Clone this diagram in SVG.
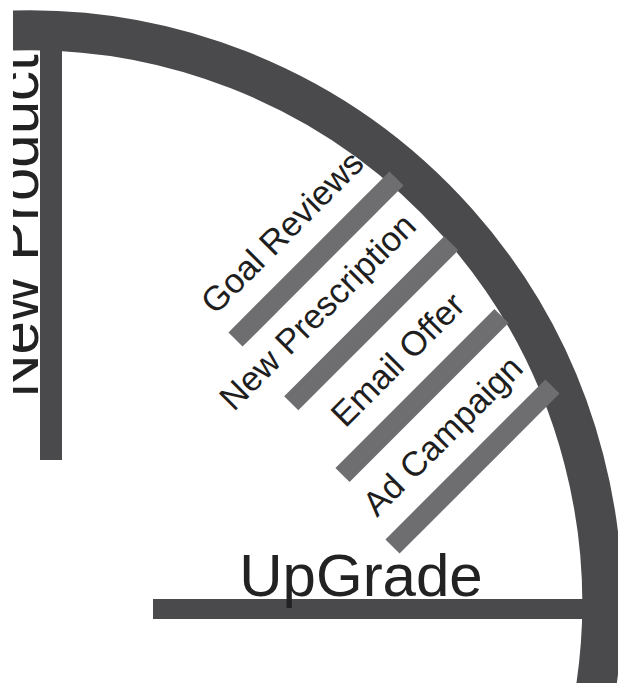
<svg xmlns="http://www.w3.org/2000/svg" width="618" height="683" viewBox="0 0 618 683">
  <defs>
    <clipPath id="frame"><rect x="13" y="0" width="605" height="683"/></clipPath>
    <style>
      .dark { fill: #4a4a4c; }
      .arc { fill: none; stroke: #4a4a4c; stroke-width: 40; }
      .rung { stroke: #6e6e70; stroke-width: 20; stroke-linecap: butt; }
      .big { font-family: "Liberation Sans", Arial, sans-serif; font-size: 60px; fill: #222; }
      .lbl { font-family: "Liberation Sans", Arial, sans-serif; font-size: 34.5px; fill: #1e1e1e; text-anchor: middle; }
    </style>
  </defs>
  <rect width="618" height="683" fill="#ffffff"/>
  <g clip-path="url(#frame)">
    <g id="new-product">
      <rect class="dark" x="40" y="35" width="22" height="425"/>
      <text class="big" text-anchor="middle" transform="translate(38,226) rotate(-90)">New Product</text>
    </g>
    <g id="upgrade">
      <rect class="dark" x="153" y="599" width="440" height="20"/>
      <text class="big" x="361" y="596" text-anchor="middle">UpGrade</text>
    </g>
    <g id="outer-arc">
      <path class="arc" d="M 0 31 A 573 573 0 0 1 594 700"/>
    </g>
    <g id="connectors">
      <line class="rung" x1="235.5" y1="339.5" x2="396.5" y2="178.5"/>
      <line class="rung" x1="291.25" y1="403.25" x2="451.25" y2="243.25"/>
      <line class="rung" x1="342.5" y1="475" x2="501.5" y2="316"/>
      <line class="rung" x1="392.5" y1="546.5" x2="552.5" y2="386.5"/>
    </g>
    <g id="goal-reviews">
      <text class="lbl" transform="translate(290.5,240.5) rotate(-45)">Goal Reviews</text>
    </g>
    <g id="new-prescription">
      <text class="lbl" transform="translate(326,320) rotate(-45)">New Prescription</text>
    </g>
    <g id="email-offer">
      <text class="lbl" transform="translate(406,368) rotate(-45)">Email Offer</text>
    </g>
    <g id="ad-campaign">
      <text class="lbl" transform="translate(451,444) rotate(-45)">Ad Campaign</text>
    </g>
  </g>
</svg>
